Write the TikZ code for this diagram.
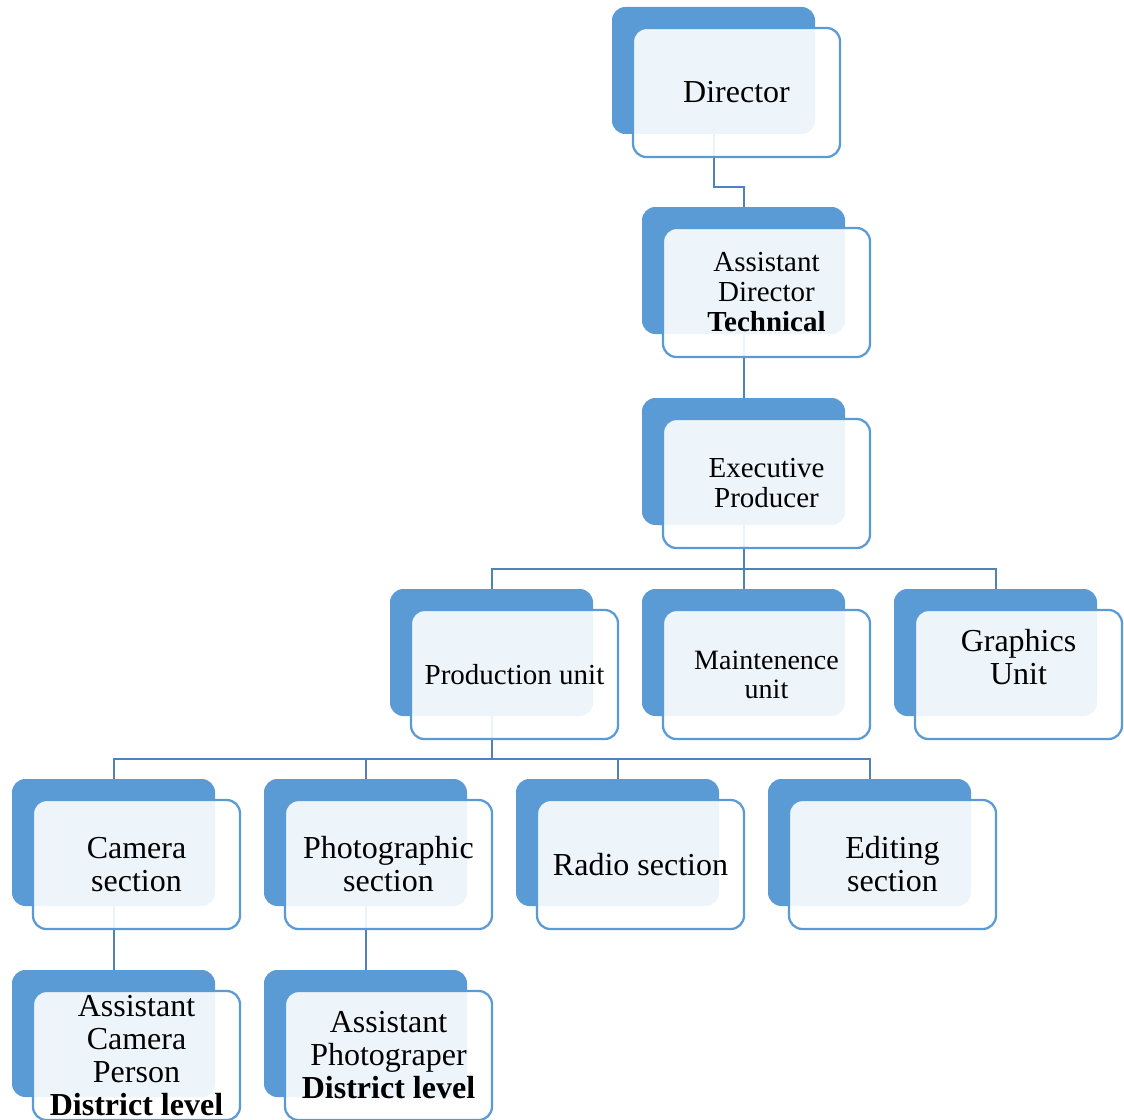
\documentclass[tikz,border=0pt]{standalone}
\usepackage{fontspec}
\setmainfont{Liberation Serif}
\usepackage{tikz}
\usepackage{xcolor}
\usetikzlibrary{positioning,calc}
\definecolor{orgBlue}{RGB}{91,155,213}
\definecolor{orgLine}{RGB}{79,129,189}
\newcommand{\bigtxt}{\fontsize{24}{24.75}\selectfont}
\newcommand{\smalltxt}{\fontsize{21.75}{22.5}\selectfont}

\begin{document}
\begin{tikzpicture}[
    x=0.75pt,y=-0.75pt,
    backbox/.style={rounded corners=10pt,minimum width=152.25pt,minimum height=95.25pt,fill=orgBlue,inner sep=0pt},
    frontbox/.style={draw=orgBlue,line width=1.7pt,rounded corners=10pt,minimum width=155.25pt,minimum height=96.75pt,
      fill=white,fill opacity=0.9,text opacity=1,align=center,inner sep=2pt},
    link/.style={orgLine,line width=1.5pt}
  ]
    \useasboundingbox (0,0) rectangle (1124,1120);
    % back plates
    \foreach \n/\p in {dir/{713.5,70.5},asd/{743.5,270.5},exe/{743.5,461.5},
        pro/{491.5,652.5},mai/{743.5,652.5},gra/{995.5,652.5},
        cam/{113.5,842.5},pho/{365.5,842.5},rad/{617.5,842.5},edi/{869.5,842.5},
        acp/{113.5,1033.5},aph/{365.5,1033.5}}
      \node[backbox] (\n B) at (\p) {};
    % connectors
    \draw[link] (dirB.south) -- ++(0,53) -| (asdB.north);
    \draw[link] (asdB.south) -- (exeB.north);
    \draw[link] (exeB.south) -- ++(0,44) -| (proB.north);
    \draw[link] (exeB.south) -- (maiB.north);
    \draw[link] (exeB.south) -- ++(0,44) -| (graB.north);
    \draw[link] (proB.south) -- ++(0,43) -| (camB.north);
    \draw[link] (proB.south) -- ++(0,43) -| (phoB.north);
    \draw[link] (proB.south) -- ++(0,43) -| (radB.north);
    \draw[link] (proB.south) -- ++(0,43) -| (ediB.north);
    \draw[link] (camB.south) -- (acpB.north);
    \draw[link] (phoB.south) -- (aphB.north);
    % front cards
    \node[frontbox,font=\bigtxt] (dir) at ([shift={(23,22)}]dirB) {Director};
    \node[frontbox,font=\smalltxt] (asd) at ([shift={(23,22)}]asdB) {Assistant\\Director\\\textbf{Technical}};
    \node[frontbox,font=\smalltxt] (exe) at ([shift={(23,22)}]exeB) {Executive\\Producer};
    \node[frontbox,font=\smalltxt] (pro) at ([shift={(23,22)}]proB) {Production unit};
    \node[frontbox,font=\fontsize{21}{21.75}\selectfont] (mai) at ([shift={(23,22)}]maiB) {Maintenence\\unit};
    \node[frontbox] (gra) at ([shift={(23,22)}]graB) {};
    \node[font=\bigtxt,align=center] (graT) at ([yshift=12.75pt]gra) {Graphics\\Unit};
    \node[frontbox,font=\bigtxt] (cam) at ([shift={(23,22)}]camB) {Camera\\section};
    \node[frontbox,font=\bigtxt] (pho) at ([shift={(23,22)}]phoB) {Photographic\\section};
    \node[frontbox,font=\bigtxt] (rad) at ([shift={(23,22)}]radB) {Radio section};
    \node[frontbox,font=\bigtxt] (edi) at ([shift={(23,22)}]ediB) {Editing\\section};
    \node[frontbox,font=\bigtxt] (acp) at ([shift={(23,22)}]acpB) {Assistant\\Camera\\Person\\\textbf{District level}};
    \node[frontbox,font=\bigtxt] (aph) at ([shift={(23,22)}]aphB) {Assistant\\Photograper\\\textbf{District level}};
  \end{tikzpicture}
\end{document}
